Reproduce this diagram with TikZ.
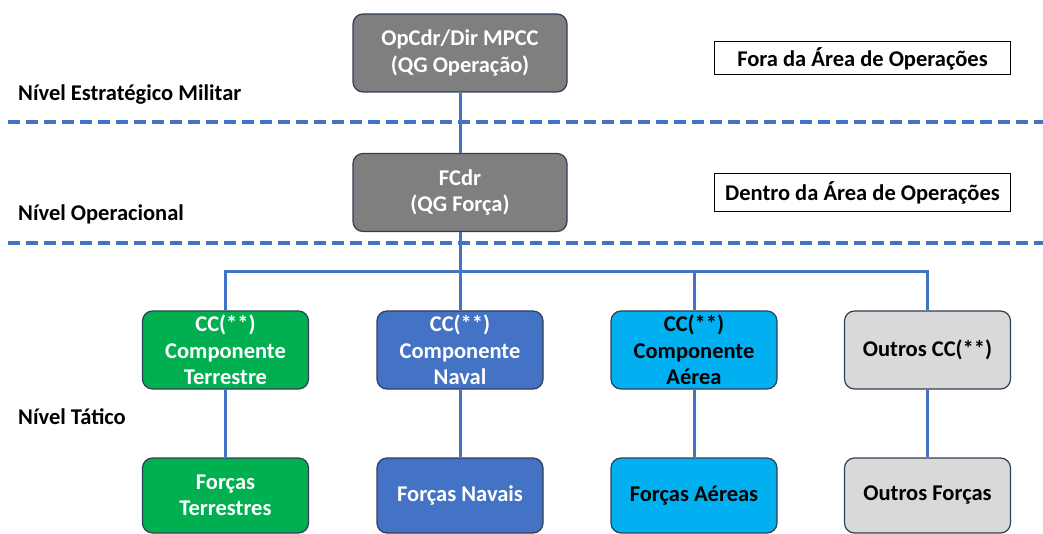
\documentclass[tikz,border=0pt]{standalone}
\usepackage{fontspec}
\setmainfont{Carlito}
\usepackage{tikz}

\definecolor{linhaazul}{HTML}{4472C4}
\definecolor{borda}{HTML}{2F3F55}
\definecolor{cinzaesc}{HTML}{7F7F7F}
\definecolor{cinzaclaro}{HTML}{D9D9D9}
\definecolor{verde}{HTML}{00B050}
\definecolor{azul}{HTML}{4472C4}
\definecolor{celeste}{HTML}{00B0F0}

\begin{document}
\begin{tikzpicture}[x=1pt,y=-1pt,
    caixa/.style={draw=borda,line width=1.2pt,rounded corners=10pt,
        minimum width=166pt,minimum height=78pt,align=center,
        inner sep=2pt,font=\bfseries\fontsize{22.5}{26.5}\selectfont},
    chefe/.style={caixa,fill=cinzaesc,text=white,minimum width=214pt},
    rotulo/.style={draw,line width=1pt,minimum width=296pt,align=center,
        font=\bfseries\fontsize{22.5}{26.5}\selectfont},
    nivel/.style={anchor=west,inner sep=0pt,font=\bfseries\fontsize{22.5}{26.5}\selectfont},
    liga/.style={linhaazul,line width=3pt},
    divisa/.style={linhaazul,line width=3.5pt,dash pattern=on 12pt off 6pt}]
    \useasboundingbox (0,0) rectangle (1043,534);
    \draw[divisa] (8,122) -- (1043,122);
    \draw[divisa] (8,243) -- (1043,243);
    \node[chefe] (opcdr) at (460,53) {OpCdr/Dir MPCC\\(QG Operação)};
    \node[chefe] (fcdr) at (460,192.5) {FCdr\\(QG Força)};
    \node[rotulo,minimum height=33pt] (fora) at (862.5,58.5) {Fora da Área de Operações};
    \node[rotulo,minimum height=38pt] (dentro) at (862.5,193) {Dentro da Área de Operações};
    \node[nivel] (estrat) at (18,95) {Nível Estratégico Militar};
    \node[nivel] (operac) at (18,214) {Nível Operacional};
    \node[nivel] (tatico) at (18,417) {Nível Tático};
    \node[caixa,fill=verde,text=white] (ccterr) at (225.5,350) {CC(**)\\Componente\\Terrestre};
    \node[caixa,fill=azul,text=white] (ccnav) at (460,350) {CC(**)\\Componente\\Naval};
    \node[caixa,fill=celeste] (ccaer) at (694,350) {CC(**)\\Componente\\Aérea};
    \node[caixa,fill=cinzaclaro] (ccout) at (927.5,350) {Outros CC(**)};
    \node[caixa,fill=verde,text=white,minimum height=75pt] (fterr) at (225.5,495.5) {Forças\\Terrestres};
    \node[caixa,fill=azul,text=white,minimum height=75pt] (fnav) at (460,495.5) {Forças Navais};
    \node[caixa,fill=celeste,minimum height=75pt] (faer) at (694,495.5) {Forças Aéreas};
    \node[caixa,fill=cinzaclaro,minimum height=75pt] (fout) at (927.5,495.5) {Outros Forças};
    \coordinate (barra) at (460,272);
    \draw[liga] (opcdr) -- (fcdr);
    \draw[liga] (fcdr) -- (ccnav);
    \draw[liga] (ccterr.north) |- (barra) -| (ccout.north);
    \draw[liga] (barra) -| (ccaer.north);
    \draw[liga] (ccterr) -- (fterr);
    \draw[liga] (ccnav) -- (fnav);
    \draw[liga] (ccaer) -- (faer);
    \draw[liga] (ccout) -- (fout);
\end{tikzpicture}
\end{document}
